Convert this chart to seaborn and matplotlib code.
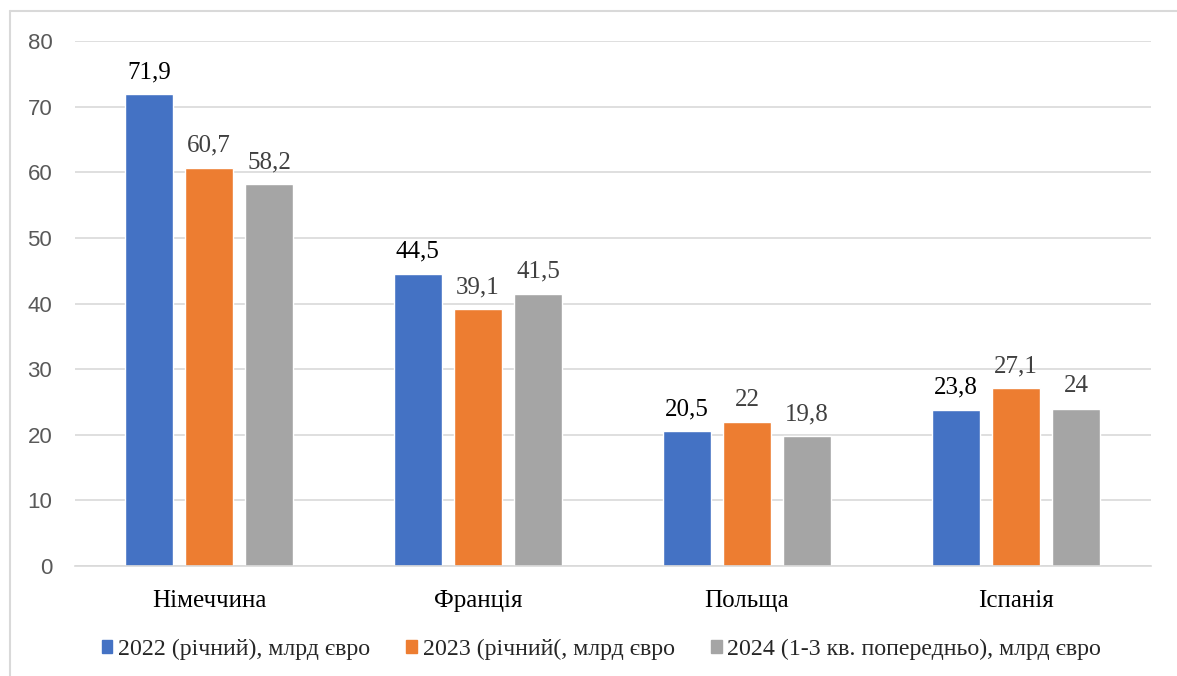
import matplotlib
matplotlib.use('Agg')
import matplotlib.pyplot as plt
from matplotlib.lines import Line2D
from matplotlib import font_manager
import seaborn as sns
import pandas as pd

# Дані з діаграми
countries = ['Німеччина', 'Франція', 'Польща', 'Іспанія']
series_names = ['2022 (річний), млрд євро',
                '2023 (річний(, млрд євро',
                '2024 (1-3 кв. попередньо), млрд євро']
v2022 = [71.9, 44.5, 20.5, 23.8]
v2023 = [60.7, 39.1, 22.0, 27.1]
v2024 = [58.2, 41.5, 19.8, 24.0]
label_2022 = ['71,9', '44,5', '20,5', '23,8']
label_2023 = ['60,7', '39,1', '22', '27,1']
label_2024 = ['58,2', '41,5', '19,8', '24']

colors = ['#4472C4', '#ED7D31', '#A5A5A5']

df = pd.DataFrame({
    'country': countries * 3,
    'series': [series_names[0]] * 4 + [series_names[1]] * 4 + [series_names[2]] * 4,
    'value': v2022 + v2023 + v2024,
})

sns.set_style('white')


def font_file(name):
    for f in font_manager.fontManager.ttflist:
        if f.name == name and f.style == 'normal' and f.weight in (400, 'normal', 'regular'):
            return f.fname
    return None


serif_file = font_file('Liberation Serif')
if serif_file:
    serif_fp = font_manager.FontProperties(fname=serif_file, size=18)
else:
    serif_fp = font_manager.FontProperties(family='serif', size=18)
legend_fp = serif_fp.copy()
legend_fp.set_size(17.2)
sans_fp = font_manager.FontProperties(family=['Liberation Sans', 'DejaVu Sans'], size=16)

fig = plt.figure(figsize=(11.77, 6.76), dpi=100)
ax = fig.add_axes([0.0633, 0.1627, 0.9142, 0.7766])

sns.barplot(data=df, x='country', y='value', hue='series', order=countries,
            hue_order=series_names, palette=colors, width=0.67, gap=0.21,
            saturation=1, errorbar=None, ax=ax, legend=False, zorder=2)

# підписи значень
label_sets = [label_2022, label_2023, label_2024]
label_colors = ['#000000', '#404040', '#404040']
for cont, labels, lc in zip(ax.containers, label_sets, label_colors):
    ax.bar_label(cont, labels=labels, padding=8, fontproperties=serif_fp,
                 color=lc)

ax.set_xlim(-0.5, 3.5)
ax.set_ylim(0, 80)
ax.set_yticks(range(0, 81, 10))
ax.yaxis.grid(True, color='#D9D9D9', linewidth=1.2, zorder=0)
ax.set_axisbelow(True)
for s in ['top', 'right', 'left']:
    ax.spines[s].set_visible(False)
ax.spines['bottom'].set_color('#D9D9D9')
ax.spines['bottom'].set_linewidth(1.2)
ax.set_xlabel('')
ax.set_ylabel('')
ax.tick_params(axis='both', length=0)
ax.tick_params(axis='y', pad=16)
ax.tick_params(axis='x', pad=17)
for t in ax.get_yticklabels():
    t.set_fontproperties(sans_fp)
    t.set_color('#595959')
for t in ax.get_xticklabels():
    t.set_fontproperties(serif_fp)
    t.set_color('#000000')

# легенда
handles = [plt.Rectangle((0, 0), 1, 1, color=c) for c in colors]
fig.legend(handles, series_names, loc='center', bbox_to_anchor=(0.511, 0.039),
           ncol=3, frameon=False, handlelength=0.45, handleheight=0.45,
           handletextpad=0.25, columnspacing=1.5, prop=legend_fp)

# рамка
fig.add_artist(Line2D([10 / 1177, 10 / 1177], [0, 1 - 11 / 676],
                      transform=fig.transFigure, color='#D9D9D9', linewidth=1.5))
fig.add_artist(Line2D([10 / 1177, 1], [1 - 11 / 676, 1 - 11 / 676],
                      transform=fig.transFigure, color='#D9D9D9', linewidth=1.5))

fig.savefig('out.png', dpi=100)
